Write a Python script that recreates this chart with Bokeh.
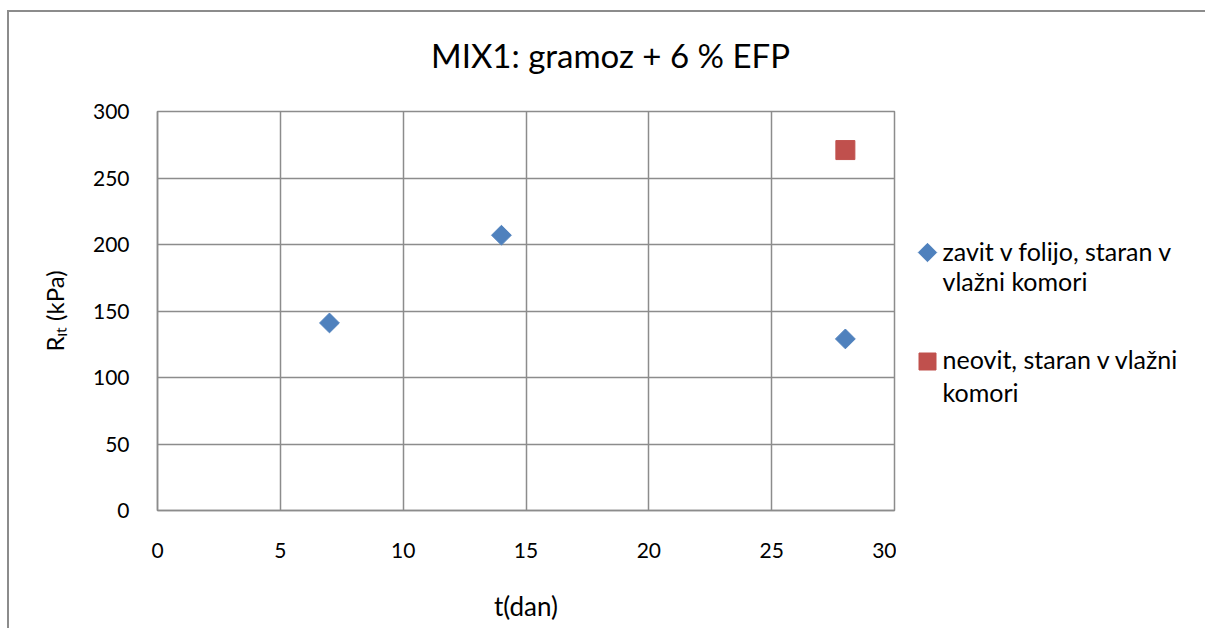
from bokeh.plotting import figure
from bokeh.layouts import column, row
from bokeh.models import Range1d, FixedTicker
from bokeh.core.properties import value
from bokeh.embed import file_html
from bokeh.resources import INLINE

# Series: indirect tensile strength vs. curing time
days_wrapped = [7, 14, 28]
rit_wrapped = [141, 207, 129]
days_open = [28]
rit_open = [271]

x_ticks = [0, 5, 10, 15, 20, 25, 30]
y_ticks = [0, 50, 100, 150, 200, 250, 300]

title_text = "MIX1: gramoz + 6 % EFP"
label_wrapped = ["zavit v folijo, staran v", "vlažni komori"]
label_open = ["neovit, staran v vlažni", "komori"]

FONT = "Lato"
GRID = "#8c8c8c"
BLUE = "#4F81BD"
RED = "#C0504D"
DIAMOND = 0.785398  # square marker turned 45 degrees

# panel sizes (px)
TITLE_W, TITLE_H = 1215, 80
PLOT_W, BODY_H = 887, 536
LEG_W = 328
FRAME_H = 399  # inner plotting height of the chart; the legend strip shares it


def blank(width, height, y_extent):
    f = figure(width=width, height=height, output_backend="svg", toolbar_location=None,
               x_range=Range1d(0, width), y_range=Range1d(0, y_extent),
               x_axis_location=None, y_axis_location=None,
               min_border=0, outline_line_color=None)
    f.xgrid.visible = False
    f.ygrid.visible = False
    return f


# --- title strip ---
t = blank(TITLE_W, TITLE_H, TITLE_H)
t.text(x=[601], y=[38], text=[title_text], text_align="center", text_baseline="middle",
       text_font=value(FONT), text_font_size="33px", text_color="#000000")

# --- main chart ---
p = figure(
    width=PLOT_W, height=BODY_H,
    output_backend="svg", toolbar_location=None,
    x_range=Range1d(0, 30), y_range=Range1d(0, 300),
    min_border_left=148, min_border_right=2,
    min_border_top=19, min_border_bottom=118,
    outline_line_color=GRID, outline_line_width=1.5,
)

for ax in (p.xaxis[0], p.yaxis[0]):
    ax.major_label_text_font = FONT
    ax.major_label_text_font_size = "21px"
    ax.major_label_text_color = "#000000"
    ax.axis_label_text_font = FONT
    ax.axis_label_text_font_style = "normal"
    ax.axis_label_text_color = "#000000"
    ax.axis_line_color = GRID
    ax.axis_line_width = 1.5
    ax.major_tick_line_color = None
    ax.minor_tick_line_color = None

p.xaxis.ticker = FixedTicker(ticks=x_ticks)
p.yaxis.ticker = FixedTicker(ticks=y_ticks)
p.xaxis.axis_label = "t(dan)"
p.yaxis.axis_label = "Rᵢₜ (kPa)"
p.xaxis.axis_label_text_font_size = "26px"
p.yaxis.axis_label_text_font_size = "24px"
p.xaxis.major_label_standoff = 26
p.yaxis.major_label_standoff = 22
p.xaxis.axis_label_standoff = 29
p.yaxis.axis_label_standoff = 21

p.xgrid.ticker = FixedTicker(ticks=x_ticks)
p.ygrid.ticker = FixedTicker(ticks=y_ticks)
p.grid.grid_line_color = GRID
p.grid.grid_line_width = 1.5

p.scatter(days_wrapped, rit_wrapped, marker="square", size=14, angle=DIAMOND,
          fill_color=BLUE, line_color=BLUE)
p.scatter(days_open, rit_open, marker="square", size=19,
          fill_color=RED, line_color=RED)

# --- legend strip (vertical extent matches the chart's plotting area) ---
lg = blank(LEG_W, BODY_H, FRAME_H)
key_x, text_x = 31, 46
rows_wrapped = [260, 230]   # text line centres, px above the chart's bottom edge
rows_open = [152, 119]
lg.scatter([key_x], [258], marker="square", size=13, angle=DIAMOND,
           fill_color=BLUE, line_color=BLUE)
lg.scatter([key_x], [149], marker="square", size=17,
           fill_color=RED, line_color=RED)
lg.text(x=[text_x] * 4, y=rows_wrapped + rows_open, text=label_wrapped + label_open,
        text_align="left", text_baseline="middle",
        text_font=value(FONT), text_font_size="25px", text_color="#000000")

layout = column(
    t, row(p, lg, spacing=0), spacing=0,
    styles={
        "margin-left": "7px", "margin-top": "10px",
        "border-left": "2px solid #8c8c8c", "border-top": "2px solid #8c8c8c",
    },
)

open("out.html", "w").write(file_html(layout, INLINE))
